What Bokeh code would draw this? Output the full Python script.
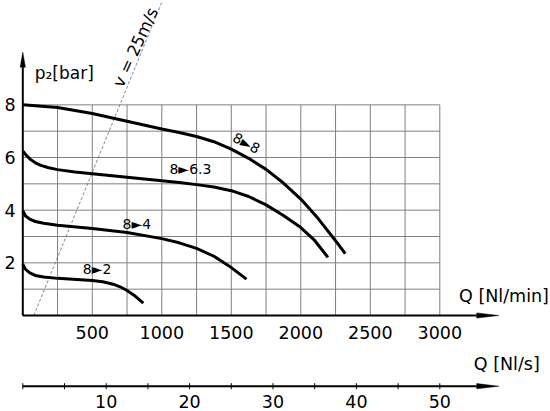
from bokeh.plotting import figure
from bokeh.models import Range1d
from bokeh.core.properties import value
from bokeh.embed import file_html
from bokeh.resources import INLINE

# curves p2 [bar] over Q [Nl/min]
q_88 = [0, 250, 500, 750, 1000, 1125, 1250, 1375, 1500, 1625, 1750, 1875, 2000, 2125, 2250, 2320]
p_88 = [8.0, 7.90, 7.67, 7.38, 7.08, 6.95, 6.80, 6.60, 6.32, 5.97, 5.55, 5.03, 4.42, 3.68, 2.84, 2.35]
q_863 = [0, 25, 55, 90, 130, 180, 250, 375, 500, 750, 1000, 1125, 1250, 1375, 1500, 1625, 1750,
         1875, 2000, 2100, 2195]
p_863 = [6.25, 6.08, 5.93, 5.80, 5.70, 5.62, 5.54, 5.45, 5.38, 5.25, 5.12, 5.05, 4.97, 4.88, 4.74,
         4.52, 4.20, 3.80, 3.34, 2.85, 2.21]
q_84 = [0, 20, 50, 90, 150, 250, 500, 750, 1000, 1125, 1250, 1375, 1500, 1609]
p_84 = [3.98, 3.78, 3.66, 3.57, 3.50, 3.43, 3.30, 3.15, 2.92, 2.76, 2.55, 2.25, 1.82, 1.38]
q_82 = [0, 20, 50, 90, 150, 250, 500, 575, 650, 700, 750, 800, 867]
p_82 = [1.95, 1.75, 1.62, 1.52, 1.46, 1.41, 1.33, 1.28, 1.19, 1.09, 0.95, 0.77, 0.47]

curve_labels = ["8\u25ba8", "8\u25ba6.3", "8\u25ba4", "8\u25ba2"]
label_q = [1609, 1206, 820, 535]
label_p = [6.55, 5.55, 3.49, 1.75]
label_angle = [-0.49, 0, 0, 0]

# v = 25 m/s line
v_q = [79, 1005]
v_p = [0, 11.96]

q_ticks = [500, 1000, 1500, 2000, 2500, 3000]
p_ticks = [2, 4, 6, 8]
nls_ticks = [0, 5, 10, 15, 20, 25, 30, 35, 40, 45, 50]
nls_labels = [10, 20, 30, 40, 50]

W, H = 550, 411
q_lo, q_hi = -160.4, 3796.4
p_lo, p_hi = -3.646, 11.963
qpx = (q_hi - q_lo) / W      # Q units per px
ppx = (p_hi - p_lo) / H      # bar per px

p = figure(width=W, height=H, x_range=Range1d(q_lo, q_hi), y_range=Range1d(p_lo, p_hi),
           x_axis_type=None, y_axis_type=None, output_backend="svg",
           toolbar_location=None, min_border=0, outline_line_color=None)
p.extra_x_ranges = {"nls": Range1d(q_lo / 60, q_hi / 60)}

font = value("DejaVu Sans")
grid_col = "#808080"

# grid
vq = list(range(250, 3001, 250))
p.segment(x0=vq, y0=[0] * len(vq), x1=vq, y1=[8] * len(vq), line_color=grid_col, line_width=1)
hp = list(range(1, 9))
p.segment(x0=[0] * len(hp), y0=hp, x1=[3000] * len(hp), y1=hp, line_color=grid_col, line_width=1)

# v = 25 m/s
p.line(v_q, v_p, line_color="#666666", line_width=0.8, line_dash="3 2")
p.text(x=[811], y=[10.18], text=["v = 25m/s"], angle=[1.14], text_font=font,
       text_font_size="16.5px", text_align="center", text_baseline="middle", text_color="black")

# curves
for qs, ps in [(q_88, p_88), (q_863, p_863), (q_84, p_84), (q_82, p_82)]:
    p.line(qs, ps, line_color="black", line_width=3, line_join="round")
p.text(x=label_q, y=label_p, text=curve_labels, angle=label_angle, text_font=font,
       text_font_size="14px", text_align="center", text_baseline="middle", text_color="black")

# main axes with arrow heads
tip_x = 3424
head_len = 22 * qpx
head_w = 2.6 * ppx
p.line([0, tip_x - head_len], [0, 0], line_color="black", line_width=2)
tip_y = 10.0
head_len_y = 15 * ppx
head_w_y = 2.6 * qpx
p.line([0, 0], [0, tip_y - head_len_y], line_color="black", line_width=2)

# Nl/s axis
nls_p = -2.685
tip_n = tip_x / 60
p.line([0, tip_n - head_len / 60], [nls_p, nls_p], line_color="black", line_width=2,
       x_range_name="nls")
p.segment(x0=nls_ticks, y0=[nls_p - 3 * ppx] * len(nls_ticks), x1=nls_ticks,
          y1=[nls_p + 3 * ppx] * len(nls_ticks), line_color="black", line_width=1,
          x_range_name="nls")

p.patches(xs=[[tip_x, tip_x - head_len, tip_x - head_len],
              [0, -head_w_y, head_w_y],
              [tip_x, tip_x - head_len, tip_x - head_len]],
          ys=[[0, head_w, -head_w],
              [tip_y, tip_y - head_len_y, tip_y - head_len_y],
              [nls_p, nls_p + head_w, nls_p - head_w]],
          fill_color="black", line_color="black", line_width=0.5)

# tick labels
p.text(x=q_ticks, y=[-0.66] * len(q_ticks), text=[str(v) for v in q_ticks], text_font=font,
       text_font_size="17.5px", text_align="center", text_baseline="middle", text_color="black")
p.text(x=[-52] * len(p_ticks), y=p_ticks, text=[str(v) for v in p_ticks], text_font=font,
       text_font_size="17.5px", text_align="right", text_baseline="middle", text_color="black")
p.text(x=nls_labels, y=[-3.27] * len(nls_labels), text=[str(v) for v in nls_labels],
       text_font=font, text_font_size="17.5px", text_align="center", text_baseline="middle",
       text_color="black", x_range_name="nls")

# axis titles
p.text(x=[86], y=[9.22], text=["p\u2082[bar]"], text_font=font, text_font_size="17px",
       text_align="left", text_baseline="alphabetic", text_color="black")
p.text(x=[3785], y=[0.74], text=["Q [Nl/min]"], text_font=font, text_font_size="17.5px",
       text_align="right", text_baseline="middle", text_color="black")
p.text(x=[3245], y=[-1.86], text=["Q [Nl/s]"], text_font=font, text_font_size="17.5px",
       text_align="left", text_baseline="middle", text_color="black")

open("out.html", "w").write(file_html(p, INLINE))
